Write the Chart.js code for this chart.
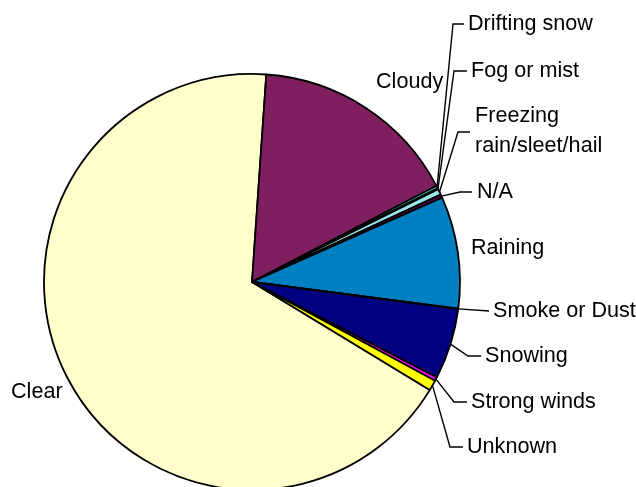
<!DOCTYPE html>
<html>
<head>
<meta charset="utf-8">
<script src="https://cdn.jsdelivr.net/npm/chart.js@4/dist/chart.umd.min.js"></script>
<style>
  html, body { margin: 0; padding: 0; background: #ffffff; }
  #wrap { width: 636px; height: 487px; position: relative; }
</style>
</head>
<body>
<div id="wrap"><canvas id="c" width="636" height="487"></canvas></div>
<script>
// ---- data ----
const categories = ['Clear', 'Cloudy', 'Drifting snow', 'Fog or mist', 'Freezing rain/sleet/hail',
                    'N/A', 'Raining', 'Smoke or Dust', 'Snowing', 'Strong winds', 'Unknown'];
const shares = [67.4, 16.25, 0.22, 0.08, 0.45, 0.25, 8.7, 0.03, 5.5, 0.3, 0.8];

// ---- styling ----
const sliceColors = ['#FFFFCC', '#7F1F5F', '#33CCCC', '#CCFFFF', '#99E6E6', '#660066',
                     '#0080C0', '#9999FF', '#000080', '#FF00FF', '#FFFF00'];

// label placement (canvas px): text anchor and leader path waypoints
const labelLayout = {
  'Clear':                    { x: 11,  y: 392, lines: ['Clear'] },
  'Cloudy':                   { x: 376, y: 82,  lines: ['Cloudy'] },
  'Drifting snow':            { x: 468, y: 24,  lines: ['Drifting snow'], path: [[453, 24], [464, 24]] },
  'Fog or mist':              { x: 471, y: 71,  lines: ['Fog or mist'], path: [[454, 71], [467, 71]] },
  'Freezing rain/sleet/hail': { x: 475, y: 116, lines: ['Freezing', 'rain/sleet/hail'], lineH: 30, path: [[458, 132], [470, 132]] },
  'N/A':                      { x: 477, y: 192, lines: ['N/A'], path: [[460, 192], [472, 192]] },
  'Raining':                  { x: 471, y: 248, lines: ['Raining'] },
  'Smoke or Dust':            { x: 493, y: 311, lines: ['Smoke or Dust'], path: [[489, 311]] },
  'Snowing':                  { x: 485, y: 356, lines: ['Snowing'], path: [[468, 356], [481, 356]] },
  'Strong winds':             { x: 471, y: 402, lines: ['Strong winds'], path: [[454, 402], [467, 402]] },
  'Unknown':                  { x: 467, y: 447, lines: ['Unknown'], path: [[450, 447], [463, 447]] }
};

const labelPlugin = {
  id: 'sliceLabels',
  afterDatasetsDraw(chart) {
    const ctx = chart.ctx;
    const meta = chart.getDatasetMeta(0);
    ctx.save();
    ctx.font = '21.6px "Liberation Sans", Arial, sans-serif';
    ctx.fillStyle = '#000000';
    ctx.textBaseline = 'middle';
    ctx.textAlign = 'left';
    meta.data.forEach((arc, i) => {
      const name = chart.data.labels[i];
      const lay = labelLayout[name];
      if (!lay) return;
      const p = arc.getProps(['x', 'y', 'startAngle', 'endAngle', 'outerRadius'], true);
      const mid = (p.startAngle + p.endAngle) / 2;
      if (lay.path) {
        const ex = p.x + Math.cos(mid) * p.outerRadius;
        const ey = p.y + Math.sin(mid) * p.outerRadius;
        ctx.beginPath();
        ctx.strokeStyle = '#000000';
        ctx.lineWidth = 1.4;
        ctx.moveTo(ex, ey);
        lay.path.forEach(pt => ctx.lineTo(pt[0], pt[1]));
        ctx.stroke();
      }
      const lh = lay.lineH || 24;
      lay.lines.forEach((t, k) => ctx.fillText(t, lay.x, lay.y + k * lh));
    });
    ctx.restore();
  }
};

new Chart(document.getElementById('c'), {
  type: 'pie',
  data: {
    labels: categories,
    datasets: [{
      data: shares,
      backgroundColor: sliceColors,
      borderColor: '#000000',
      borderWidth: 1.8,
      borderAlign: 'center',
      clip: false
    }]
  },
  options: {
    responsive: false,
    animation: false,
    devicePixelRatio: 1,
    rotation: 121.25,
    radius: 208,
    layout: { padding: { left: 0, right: 132, top: 77, bottom: 0 } },
    plugins: {
      legend: { display: false },
      tooltip: { enabled: false },
      title: { display: false }
    }
  },
  plugins: [labelPlugin]
});
</script>
</body>
</html>
